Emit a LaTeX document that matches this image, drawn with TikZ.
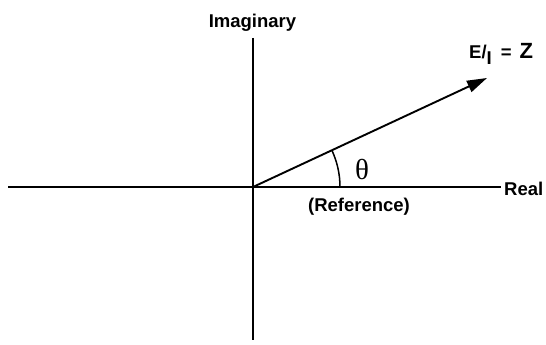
\documentclass[tikz,border=0pt]{standalone}
\usepackage{fontspec}
\setmainfont{Liberation Sans}
\newfontfamily\serifth{Liberation Serif}
\usetikzlibrary{arrows.meta}
\begin{document}
\begin{tikzpicture}[x=1pt,y=1pt,
  axis/.style={line width=1.9pt,black},
  lbl/.style={font=\fontsize{18.5}{20}\selectfont\bfseries,inner sep=0pt}]
\useasboundingbox (0,0) rectangle (546,345);
\coordinate (O) at (253,158);
\coordinate (L) at (8,158);
\coordinate (R) at (501,158);
\coordinate (T) at (253,307);
\coordinate (B) at (253,5);
\coordinate (V) at (487,267);
\draw[axis] (L) -- (R);
\draw[axis] (T) -- (B);
\draw[axis,-{Triangle[length=20pt,width=12pt]}] (O) -- (V);
\draw[line width=1.5pt] ([shift={(0:87)}]O) arc[start angle=0,end angle=25,radius=87];
\node[lbl] (im) at (252.5,322) {Imaginary};
\node[lbl,anchor=west] (re) at (504,156) {Real};
\node[lbl] (ref) at (359,138) {(Reference)};
\node[inner sep=0pt,font=\serifth\fontsize{29}{30}\selectfont] (th) at (362,175) {θ};
\node[lbl,anchor=west] (ez) at (469,291) {E/\raisebox{-6pt}{I}\hspace{9pt}=\hspace{8pt}\fontsize{22}{24}\selectfont Z};
\end{tikzpicture}
\end{document}
